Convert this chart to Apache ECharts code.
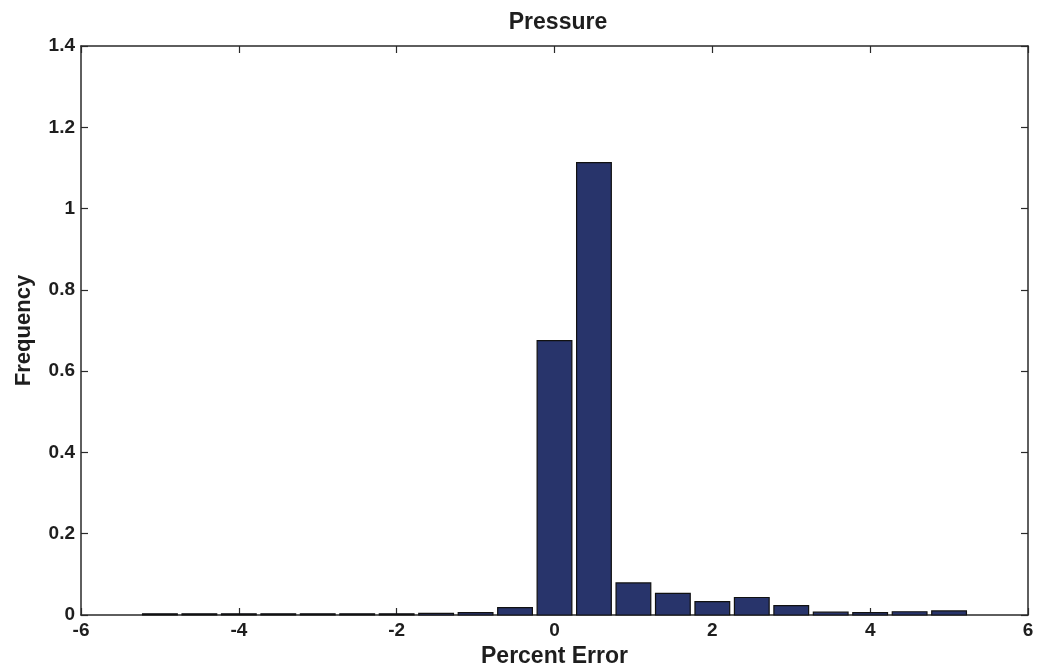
<!DOCTYPE html>
<html>
<head>
<meta charset="utf-8">
<script src="https://cdn.jsdelivr.net/npm/echarts@6/dist/echarts.min.js"></script>
<style>
  html, body { margin: 0; padding: 0; background: #fff; }
  #chart { width: 1041px; height: 668px; }
</style>
</head>
<body>
<div id="chart"></div>
<script>
// Histogram of percent error in pressure: bin centres and bin frequencies
const binCenters = [-5, -4.5, -4, -3.5, -3, -2.5, -2, -1.5, -1, -0.5,
                    0, 0.5, 1, 1.5, 2, 2.5, 3, 3.5, 4, 4.5, 5];
const frequencies = [0.003, 0.003, 0.003, 0.003, 0.003, 0.003, 0.003, 0.004, 0.006, 0.018,
                     0.675, 1.113, 0.079, 0.053, 0.033, 0.043, 0.023, 0.007, 0.006, 0.008, 0.010];
const xTicks = [-6, -4, -2, 0, 2, 4, 6];
const yTicks = [0, 0.2, 0.4, 0.6, 0.8, 1, 1.2, 1.4];

const BIN_WIDTH = 0.44;
const FONT = 'Liberation Sans, Arial, sans-serif';
const INK = '#1e1e1e';

const chart = echarts.init(document.getElementById('chart'), null, { renderer: 'canvas' });

const tickLabel = { fontFamily: FONT, fontWeight: 'bold', fontSize: 19, color: INK };
const frameLine = { show: true, onZero: false, lineStyle: { color: '#2a2a2a', width: 1.5 } };
const innerTick = { show: true, inside: true, length: 7, lineStyle: { color: '#2a2a2a', width: 1.2 } };

const xBase = {
  type: 'value', min: xTicks[0], max: xTicks[xTicks.length - 1], interval: 2,
  axisLine: frameLine, axisTick: innerTick, splitLine: { show: false }
};
const yBase = {
  type: 'value', min: yTicks[0], max: yTicks[yTicks.length - 1], interval: 0.2,
  axisLine: frameLine, axisTick: innerTick, splitLine: { show: false }
};

chart.setOption({
  animation: false,
  backgroundColor: '#ffffff',
  title: {
    text: 'Pressure', left: 553, top: 6, textAlign: 'center',
    textStyle: { fontFamily: FONT, fontWeight: 'bold', fontSize: 23, color: INK }
  },
  grid: { left: 81, right: 13, top: 46, bottom: 53, outerBoundsMode: 'none', containLabel: false },
  xAxis: [
    Object.assign({}, xBase, {
      position: 'bottom',
      axisLabel: Object.assign({ margin: 6, formatter: v => String(v) }, tickLabel),
      name: 'Percent Error', nameLocation: 'middle', nameGap: 28,
      nameTextStyle: { fontFamily: FONT, fontWeight: 'bold', fontSize: 23, color: INK }
    }),
    Object.assign({}, xBase, { position: 'top', axisLabel: { show: false } })
  ],
  yAxis: [
    Object.assign({}, yBase, {
      position: 'left',
      axisLabel: Object.assign({ margin: 6, formatter: v => String(Math.round(v * 10) / 10) }, tickLabel),
      name: 'Frequency', nameLocation: 'middle', nameGap: 46,
      nameTextStyle: { fontFamily: FONT, fontWeight: 'bold', fontSize: 22, color: INK }
    }),
    Object.assign({}, yBase, { position: 'right', axisLabel: { show: false } })
  ],
  series: [{
    type: 'custom',
    xAxisIndex: 0, yAxisIndex: 0,
    data: binCenters.map((x, i) => [x, frequencies[i]]),
    encode: { x: 0, y: 1 },
    renderItem: function (params, api) {
      const x = api.value(0), y = api.value(1);
      const left = api.coord([x - BIN_WIDTH / 2, y]);
      const right = api.coord([x + BIN_WIDTH / 2, 0]);
      return {
        type: 'rect',
        shape: { x: left[0], y: left[1], width: right[0] - left[0], height: right[1] - left[1] },
        style: { fill: '#28346b', stroke: '#111111', lineWidth: 1.2 }
      };
    },
    z: 1
  }]
});
</script>
</body>
</html>
